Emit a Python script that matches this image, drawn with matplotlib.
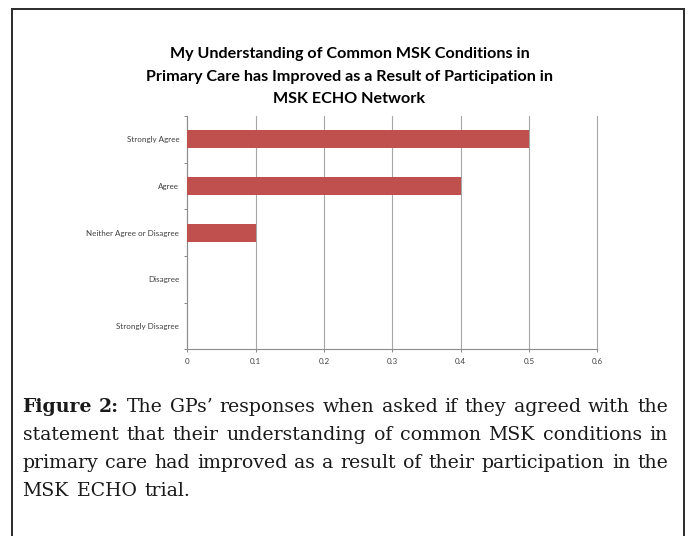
import matplotlib
matplotlib.use("Agg")
import matplotlib.pyplot as plt
from matplotlib.patches import Rectangle

W, H = 689, 536

categories = ["Strongly Agree", "Agree", "Neither Agree or Disagree",
              "Disagree", "Strongly Disagree"]
values = [0.5, 0.4, 0.1, 0.0, 0.0]
xticks = [0, 0.1, 0.2, 0.3, 0.4, 0.5, 0.6]
xtick_labels = ["0", "0.1", "0.2", "0.3", "0.4", "0.5", "0.6"]

title_lines = ["My Understanding of Common MSK Conditions in",
               "Primary Care has Improved as a Result of Participation in",
               "MSK ECHO Network"]
caption_lines = [
    "Figure 2: The GPs\u2019 responses when asked if they agreed with the",
    "statement that their understanding of common MSK conditions in",
    "primary care had improved as a result of their participation in the",
    "MSK ECHO trial.",
]

sans = ["Lato", "DejaVu Sans"]
serif = ["DejaVu Serif", "Liberation Serif"]
cap_size = 13.6


def fx(px):
    return px / W


def fy(py):
    return 1 - py / H


fig = plt.figure(figsize=(W / 100, H / 100), dpi=100)
fig.patch.set_facecolor("white")

# outer frame
fig.add_artist(Rectangle((fx(12), fy(545)), fx(684) - fx(12), fy(9) - fy(545),
                         transform=fig.transFigure, fill=False,
                         edgecolor="#2a2a2a", linewidth=1.4))

ax = fig.add_axes([fx(187.3), fy(349.3), fx(597.3) - fx(187.3), fy(116) - fy(349.3)])
ypos = list(range(len(categories)))
ax.barh(ypos, values, height=0.39, color="#C0504D", zorder=3)
ax.set_xlim(0, 0.6)
ax.set_ylim(len(categories) - 0.5, -0.5)

ax.set_xticks(xticks)
ax.set_xticklabels(xtick_labels)
ax.set_yticks(ypos)
ax.set_yticklabels(categories)
ax.set_yticks([i - 0.5 for i in range(len(categories) + 1)], minor=True)

ax.tick_params(axis="x", direction="out", length=2.2, width=0.7, color="#888888",
               labelsize=5.8, labelcolor="#404040", pad=4)
ax.tick_params(axis="y", which="major", length=0, labelsize=5.8,
               labelcolor="#404040", pad=5.8)
ax.tick_params(axis="y", which="minor", direction="out", length=2.2, width=0.7,
               color="#888888")
for lab in ax.get_xticklabels() + ax.get_yticklabels():
    lab.set_family(sans)

ax.grid(axis="x", color="#a6a6a6", linewidth=0.8, zorder=0)
for gl in ax.get_xgridlines():
    gl.set_clip_on(False)
ax.set_axisbelow(True)
for side in ["top", "right"]:
    ax.spines[side].set_visible(False)
for side in ["left", "bottom"]:
    ax.spines[side].set_color("#8c8c8c")
    ax.spines[side].set_linewidth(0.8)

# chart title
for line, base in zip(title_lines, [58.5, 80.5, 102.5]):
    fig.text(fx(349.5), fy(base), line, ha="center", va="baseline",
             fontsize=11.6, fontweight="bold", family=sans, color="black")

# justified caption
renderer = fig.canvas.get_renderer()
left, right = 22.5, 668
bases = [411.5, 440, 468, 496]
sp = fig.text(0, 0, "a a", fontsize=cap_size, family=serif)
sp2 = fig.text(0, 0, "aa", fontsize=cap_size, family=serif)
space_w = sp.get_window_extent(renderer).width - sp2.get_window_extent(renderer).width
sp.remove()
sp2.remove()
for li, (line, base) in enumerate(zip(caption_lines, bases)):
    words = line.split(" ")
    items = []
    for wi, w in enumerate(words):
        bold = li == 0 and wi < 2
        t = fig.text(0, fy(base), w, ha="left", va="baseline", fontsize=cap_size,
                     family=serif, fontweight="bold" if bold else "normal",
                     color="#1a1a1a")
        items.append((t, t.get_window_extent(renderer).width))
    total = sum(wd for _, wd in items)
    if li < len(caption_lines) - 1:
        gap = max((right - left - total) / (len(items) - 1), space_w * 0.6)
    else:
        gap = space_w * 1.3
    x = left
    for t, wd in items:
        t.set_x(fx(x))
        x += wd + gap

fig.savefig("out.png", dpi=100, facecolor="white")
